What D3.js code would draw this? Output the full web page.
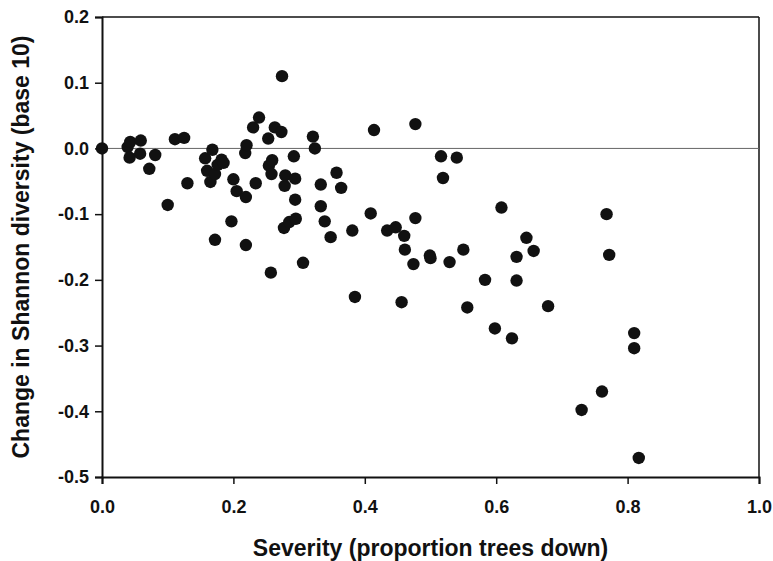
<!DOCTYPE html>
<html>
<head>
<meta charset="utf-8">
<script src="https://cdn.jsdelivr.net/npm/d3@7"></script>
<style>
  body { margin: 0; background: #fff; }
  text { font-family: "Liberation Sans", Arial, sans-serif; font-weight: bold; fill: #111; }
</style>
</head>
<body>
<svg id="chart" width="773" height="561"></svg>
<script>
// severity (proportion trees down) and change in Shannon diversity
var severity = [0.000, 0.039, 0.043, 0.059, 0.042, 0.058, 0.081, 0.072, 0.100, 0.111,
  0.125, 0.130, 0.157, 0.160, 0.165, 0.168, 0.172, 0.176, 0.182, 0.185,
  0.172, 0.197, 0.200, 0.205, 0.218, 0.220, 0.219, 0.219, 0.230, 0.234,
  0.239, 0.253, 0.254, 0.257, 0.258, 0.259, 0.263, 0.273, 0.274, 0.277,
  0.278, 0.279, 0.285, 0.292, 0.294, 0.294, 0.295, 0.306, 0.321, 0.324,
  0.333, 0.333, 0.339, 0.348, 0.357, 0.364, 0.381, 0.385, 0.409, 0.414,
  0.434, 0.447, 0.456, 0.460, 0.461, 0.474, 0.477, 0.477, 0.499, 0.500,
  0.516, 0.519, 0.529, 0.540, 0.550, 0.556, 0.583, 0.598, 0.608, 0.624,
  0.631, 0.631, 0.646, 0.657, 0.679, 0.730, 0.761, 0.768, 0.772, 0.810,
  0.810, 0.817];
var diversityChange = [0.000, 0.002, 0.010, 0.012, -0.014, -0.008, -0.010, -0.031, -0.086, 0.014,
  0.016, -0.053, -0.015, -0.034, -0.051, -0.002, -0.039, -0.025, -0.017, -0.022,
  -0.139, -0.111, -0.047, -0.065, -0.007, 0.005, -0.074, -0.147, 0.032, -0.053,
  0.047, 0.015, -0.026, -0.189, -0.039, -0.018, 0.032, 0.025, 0.110, -0.121,
  -0.057, -0.041, -0.112, -0.012, -0.046, -0.078, -0.107, -0.174, 0.018, 0.000,
  -0.055, -0.088, -0.111, -0.135, -0.037, -0.060, -0.125, -0.226, -0.099, 0.028,
  -0.125, -0.120, -0.234, -0.133, -0.154, -0.176, 0.037, -0.106, -0.163, -0.167,
  -0.012, -0.045, -0.173, -0.014, -0.154, -0.242, -0.200, -0.274, -0.090, -0.289,
  -0.165, -0.201, -0.136, -0.156, -0.240, -0.398, -0.370, -0.100, -0.162, -0.281,
  -0.304, -0.471];
var xTicks = [0, 0.2, 0.4, 0.6, 0.8, 1.0];
var yTicks = [0.2, 0.1, 0, -0.1, -0.2, -0.3, -0.4, -0.5];

var svg = d3.select("#chart"),
    margin = {top: 17, right: 14, bottom: 84, left: 102},
    width = +svg.attr("width") - margin.left - margin.right,
    height = +svg.attr("height") - margin.top - margin.bottom;

var chart = svg.append("g").attr("transform", "translate(" + margin.left + "," + margin.top + ")");

var x = d3.scaleLinear().domain([0, 1]).range([0, width]);
var y = d3.scaleLinear().domain([-0.5, 0.2]).range([height, 0]);

var data = severity.map(function(d, i) { return {x: d, y: diversityChange[i]}; });

// frame on top and right
chart.append("line")
    .attr("x1", 0).attr("x2", width).attr("y1", 0).attr("y2", 0)
    .attr("stroke", "#111").attr("stroke-width", 1.5);
chart.append("line")
    .attr("x1", width).attr("x2", width).attr("y1", 0).attr("y2", height)
    .attr("stroke", "#111").attr("stroke-width", 1.5);

// reference line at zero
chart.append("line")
    .attr("x1", 0).attr("x2", width).attr("y1", y(0)).attr("y2", y(0))
    .attr("stroke", "#666").attr("stroke-width", 1);

var xAxis = chart.append("g")
    .attr("transform", "translate(0," + height + ")")
    .call(d3.axisBottom(x).tickValues(xTicks).tickFormat(d3.format(".1f")).tickSize(7).tickPadding(16));

var yAxis = chart.append("g")
    .call(d3.axisLeft(y).tickValues(yTicks).tickFormat(d3.format(".1f")).tickSize(7).tickPadding(6));

[xAxis, yAxis].forEach(function(a) {
    a.select(".domain").attr("stroke", "#111").attr("stroke-width", 2);
    a.selectAll(".tick line").attr("stroke", "#111").attr("stroke-width", 1.5);
    a.selectAll(".tick text")
        .attr("font-family", "'Liberation Sans', Arial, sans-serif")
        .attr("font-weight", "bold")
        .attr("font-size", 18)
        .attr("fill", "#111");
});
yAxis.selectAll(".tick text").text(function(d) { return d3.format(".1f")(d).replace("−", "-"); });

chart.selectAll(".dot")
    .data(data)
    .enter().append("circle")
    .attr("class", "dot")
    .attr("cx", function(d) { return x(d.x); })
    .attr("cy", function(d) { return y(d.y); })
    .attr("r", 6.2)
    .attr("fill", "#111");

// axis titles
svg.append("text")
    .attr("x", margin.left + width / 2)
    .attr("y", 556)
    .attr("text-anchor", "middle")
    .style("font-size", "23px")
    .text("Severity (proportion trees down)");

svg.append("text")
    .attr("transform", "translate(29," + (margin.top + height / 2) + ") rotate(-90)")
    .attr("text-anchor", "middle")
    .style("font-size", "23px")
    .text("Change in Shannon diversity (base 10)");
</script>
</body>
</html>
